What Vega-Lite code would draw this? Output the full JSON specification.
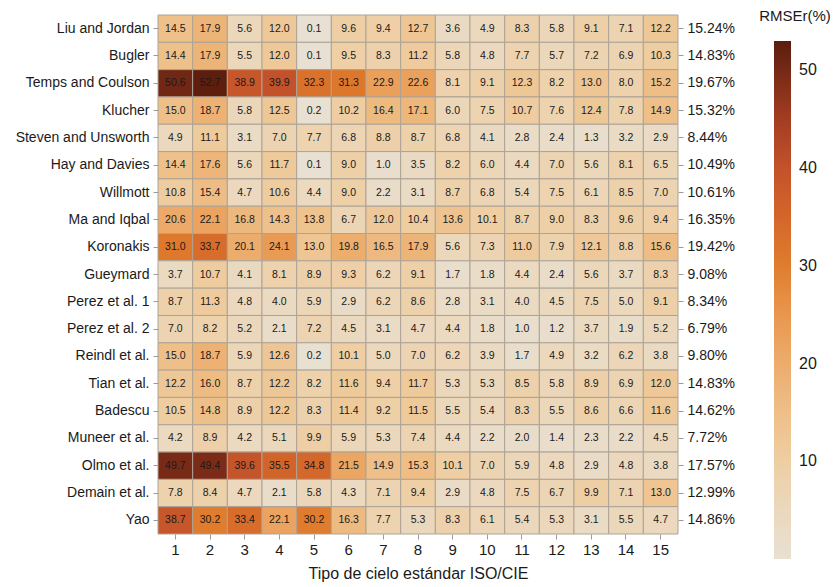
{
  "$schema": "https://vega.github.io/schema/vega-lite/v6.json",
  "autosize": {"type": "none"},
  "padding": {"left": 158, "top": 15, "right": 157, "bottom": 53},
  "width": 520,
  "height": 519,
  "background": "white",
  "config": {
    "view": {"stroke": null},
    "font": "Liberation Sans",
    "axis": {
      "labelFont": "Liberation Sans",
      "titleFont": "Liberation Sans",
      "labelColor": "#1a1a1a",
      "titleColor": "#1a1a1a",
      "tickColor": "#9a9a9a",
      "tickSize": 5,
      "domain": false,
      "grid": false,
      "titleFontWeight": "normal"
    }
  },
  "datasets": {
    "totals": [
      {"model": "Liu and Jordan", "total": 15.24},
      {"model": "Bugler", "total": 14.83},
      {"model": "Temps and Coulson", "total": 19.67},
      {"model": "Klucher", "total": 15.32},
      {"model": "Steven and Unsworth", "total": 8.44},
      {"model": "Hay and Davies", "total": 10.49},
      {"model": "Willmott", "total": 10.61},
      {"model": "Ma and Iqbal", "total": 16.35},
      {"model": "Koronakis", "total": 19.42},
      {"model": "Gueymard", "total": 9.08},
      {"model": "Perez et al. 1", "total": 8.34},
      {"model": "Perez et al. 2", "total": 6.79},
      {"model": "Reindl et al.", "total": 9.80},
      {"model": "Tian et al.", "total": 14.83},
      {"model": "Badescu", "total": 14.62},
      {"model": "Muneer et al.", "total": 7.72},
      {"model": "Olmo et al.", "total": 17.57},
      {"model": "Demain et al.", "total": 12.99},
      {"model": "Yao", "total": 14.86}
    ],
    "cells": [
      {"model":"Liu and Jordan","sky":1,"rmse":14.5},{"model":"Liu and Jordan","sky":2,"rmse":17.9},{"model":"Liu and Jordan","sky":3,"rmse":5.6},{"model":"Liu and Jordan","sky":4,"rmse":12.0},{"model":"Liu and Jordan","sky":5,"rmse":0.1},{"model":"Liu and Jordan","sky":6,"rmse":9.6},{"model":"Liu and Jordan","sky":7,"rmse":9.4},{"model":"Liu and Jordan","sky":8,"rmse":12.7},{"model":"Liu and Jordan","sky":9,"rmse":3.6},{"model":"Liu and Jordan","sky":10,"rmse":4.9},{"model":"Liu and Jordan","sky":11,"rmse":8.3},{"model":"Liu and Jordan","sky":12,"rmse":5.8},{"model":"Liu and Jordan","sky":13,"rmse":9.1},{"model":"Liu and Jordan","sky":14,"rmse":7.1},{"model":"Liu and Jordan","sky":15,"rmse":12.2},
      {"model":"Bugler","sky":1,"rmse":14.4},{"model":"Bugler","sky":2,"rmse":17.9},{"model":"Bugler","sky":3,"rmse":5.5},{"model":"Bugler","sky":4,"rmse":12.0},{"model":"Bugler","sky":5,"rmse":0.1},{"model":"Bugler","sky":6,"rmse":9.5},{"model":"Bugler","sky":7,"rmse":8.3},{"model":"Bugler","sky":8,"rmse":11.2},{"model":"Bugler","sky":9,"rmse":5.8},{"model":"Bugler","sky":10,"rmse":4.8},{"model":"Bugler","sky":11,"rmse":7.7},{"model":"Bugler","sky":12,"rmse":5.7},{"model":"Bugler","sky":13,"rmse":7.2},{"model":"Bugler","sky":14,"rmse":6.9},{"model":"Bugler","sky":15,"rmse":10.3},
      {"model":"Temps and Coulson","sky":1,"rmse":50.6},{"model":"Temps and Coulson","sky":2,"rmse":52.7},{"model":"Temps and Coulson","sky":3,"rmse":38.9},{"model":"Temps and Coulson","sky":4,"rmse":39.9},{"model":"Temps and Coulson","sky":5,"rmse":32.3},{"model":"Temps and Coulson","sky":6,"rmse":31.3},{"model":"Temps and Coulson","sky":7,"rmse":22.9},{"model":"Temps and Coulson","sky":8,"rmse":22.6},{"model":"Temps and Coulson","sky":9,"rmse":8.1},{"model":"Temps and Coulson","sky":10,"rmse":9.1},{"model":"Temps and Coulson","sky":11,"rmse":12.3},{"model":"Temps and Coulson","sky":12,"rmse":8.2},{"model":"Temps and Coulson","sky":13,"rmse":13.0},{"model":"Temps and Coulson","sky":14,"rmse":8.0},{"model":"Temps and Coulson","sky":15,"rmse":15.2},
      {"model":"Klucher","sky":1,"rmse":15.0},{"model":"Klucher","sky":2,"rmse":18.7},{"model":"Klucher","sky":3,"rmse":5.8},{"model":"Klucher","sky":4,"rmse":12.5},{"model":"Klucher","sky":5,"rmse":0.2},{"model":"Klucher","sky":6,"rmse":10.2},{"model":"Klucher","sky":7,"rmse":16.4},{"model":"Klucher","sky":8,"rmse":17.1},{"model":"Klucher","sky":9,"rmse":6.0},{"model":"Klucher","sky":10,"rmse":7.5},{"model":"Klucher","sky":11,"rmse":10.7},{"model":"Klucher","sky":12,"rmse":7.6},{"model":"Klucher","sky":13,"rmse":12.4},{"model":"Klucher","sky":14,"rmse":7.8},{"model":"Klucher","sky":15,"rmse":14.9},
      {"model":"Steven and Unsworth","sky":1,"rmse":4.9},{"model":"Steven and Unsworth","sky":2,"rmse":11.1},{"model":"Steven and Unsworth","sky":3,"rmse":3.1},{"model":"Steven and Unsworth","sky":4,"rmse":7.0},{"model":"Steven and Unsworth","sky":5,"rmse":7.7},{"model":"Steven and Unsworth","sky":6,"rmse":6.8},{"model":"Steven and Unsworth","sky":7,"rmse":8.8},{"model":"Steven and Unsworth","sky":8,"rmse":8.7},{"model":"Steven and Unsworth","sky":9,"rmse":6.8},{"model":"Steven and Unsworth","sky":10,"rmse":4.1},{"model":"Steven and Unsworth","sky":11,"rmse":2.8},{"model":"Steven and Unsworth","sky":12,"rmse":2.4},{"model":"Steven and Unsworth","sky":13,"rmse":1.3},{"model":"Steven and Unsworth","sky":14,"rmse":3.2},{"model":"Steven and Unsworth","sky":15,"rmse":2.9},
      {"model":"Hay and Davies","sky":1,"rmse":14.4},{"model":"Hay and Davies","sky":2,"rmse":17.6},{"model":"Hay and Davies","sky":3,"rmse":5.6},{"model":"Hay and Davies","sky":4,"rmse":11.7},{"model":"Hay and Davies","sky":5,"rmse":0.1},{"model":"Hay and Davies","sky":6,"rmse":9.0},{"model":"Hay and Davies","sky":7,"rmse":1.0},{"model":"Hay and Davies","sky":8,"rmse":3.5},{"model":"Hay and Davies","sky":9,"rmse":8.2},{"model":"Hay and Davies","sky":10,"rmse":6.0},{"model":"Hay and Davies","sky":11,"rmse":4.4},{"model":"Hay and Davies","sky":12,"rmse":7.0},{"model":"Hay and Davies","sky":13,"rmse":5.6},{"model":"Hay and Davies","sky":14,"rmse":8.1},{"model":"Hay and Davies","sky":15,"rmse":6.5},
      {"model":"Willmott","sky":1,"rmse":10.8},{"model":"Willmott","sky":2,"rmse":15.4},{"model":"Willmott","sky":3,"rmse":4.7},{"model":"Willmott","sky":4,"rmse":10.6},{"model":"Willmott","sky":5,"rmse":4.4},{"model":"Willmott","sky":6,"rmse":9.0},{"model":"Willmott","sky":7,"rmse":2.2},{"model":"Willmott","sky":8,"rmse":3.1},{"model":"Willmott","sky":9,"rmse":8.7},{"model":"Willmott","sky":10,"rmse":6.8},{"model":"Willmott","sky":11,"rmse":5.4},{"model":"Willmott","sky":12,"rmse":7.5},{"model":"Willmott","sky":13,"rmse":6.1},{"model":"Willmott","sky":14,"rmse":8.5},{"model":"Willmott","sky":15,"rmse":7.0},
      {"model":"Ma and Iqbal","sky":1,"rmse":20.6},{"model":"Ma and Iqbal","sky":2,"rmse":22.1},{"model":"Ma and Iqbal","sky":3,"rmse":16.8},{"model":"Ma and Iqbal","sky":4,"rmse":14.3},{"model":"Ma and Iqbal","sky":5,"rmse":13.8},{"model":"Ma and Iqbal","sky":6,"rmse":6.7},{"model":"Ma and Iqbal","sky":7,"rmse":12.0},{"model":"Ma and Iqbal","sky":8,"rmse":10.4},{"model":"Ma and Iqbal","sky":9,"rmse":13.6},{"model":"Ma and Iqbal","sky":10,"rmse":10.1},{"model":"Ma and Iqbal","sky":11,"rmse":8.7},{"model":"Ma and Iqbal","sky":12,"rmse":9.0},{"model":"Ma and Iqbal","sky":13,"rmse":8.3},{"model":"Ma and Iqbal","sky":14,"rmse":9.6},{"model":"Ma and Iqbal","sky":15,"rmse":9.4},
      {"model":"Koronakis","sky":1,"rmse":31.0},{"model":"Koronakis","sky":2,"rmse":33.7},{"model":"Koronakis","sky":3,"rmse":20.1},{"model":"Koronakis","sky":4,"rmse":24.1},{"model":"Koronakis","sky":5,"rmse":13.0},{"model":"Koronakis","sky":6,"rmse":19.8},{"model":"Koronakis","sky":7,"rmse":16.5},{"model":"Koronakis","sky":8,"rmse":17.9},{"model":"Koronakis","sky":9,"rmse":5.6},{"model":"Koronakis","sky":10,"rmse":7.3},{"model":"Koronakis","sky":11,"rmse":11.0},{"model":"Koronakis","sky":12,"rmse":7.9},{"model":"Koronakis","sky":13,"rmse":12.1},{"model":"Koronakis","sky":14,"rmse":8.8},{"model":"Koronakis","sky":15,"rmse":15.6},
      {"model":"Gueymard","sky":1,"rmse":3.7},{"model":"Gueymard","sky":2,"rmse":10.7},{"model":"Gueymard","sky":3,"rmse":4.1},{"model":"Gueymard","sky":4,"rmse":8.1},{"model":"Gueymard","sky":5,"rmse":8.9},{"model":"Gueymard","sky":6,"rmse":9.3},{"model":"Gueymard","sky":7,"rmse":6.2},{"model":"Gueymard","sky":8,"rmse":9.1},{"model":"Gueymard","sky":9,"rmse":1.7},{"model":"Gueymard","sky":10,"rmse":1.8},{"model":"Gueymard","sky":11,"rmse":4.4},{"model":"Gueymard","sky":12,"rmse":2.4},{"model":"Gueymard","sky":13,"rmse":5.6},{"model":"Gueymard","sky":14,"rmse":3.7},{"model":"Gueymard","sky":15,"rmse":8.3},
      {"model":"Perez et al. 1","sky":1,"rmse":8.7},{"model":"Perez et al. 1","sky":2,"rmse":11.3},{"model":"Perez et al. 1","sky":3,"rmse":4.8},{"model":"Perez et al. 1","sky":4,"rmse":4.0},{"model":"Perez et al. 1","sky":5,"rmse":5.9},{"model":"Perez et al. 1","sky":6,"rmse":2.9},{"model":"Perez et al. 1","sky":7,"rmse":6.2},{"model":"Perez et al. 1","sky":8,"rmse":8.6},{"model":"Perez et al. 1","sky":9,"rmse":2.8},{"model":"Perez et al. 1","sky":10,"rmse":3.1},{"model":"Perez et al. 1","sky":11,"rmse":4.0},{"model":"Perez et al. 1","sky":12,"rmse":4.5},{"model":"Perez et al. 1","sky":13,"rmse":7.5},{"model":"Perez et al. 1","sky":14,"rmse":5.0},{"model":"Perez et al. 1","sky":15,"rmse":9.1},
      {"model":"Perez et al. 2","sky":1,"rmse":7.0},{"model":"Perez et al. 2","sky":2,"rmse":8.2},{"model":"Perez et al. 2","sky":3,"rmse":5.2},{"model":"Perez et al. 2","sky":4,"rmse":2.1},{"model":"Perez et al. 2","sky":5,"rmse":7.2},{"model":"Perez et al. 2","sky":6,"rmse":4.5},{"model":"Perez et al. 2","sky":7,"rmse":3.1},{"model":"Perez et al. 2","sky":8,"rmse":4.7},{"model":"Perez et al. 2","sky":9,"rmse":4.4},{"model":"Perez et al. 2","sky":10,"rmse":1.8},{"model":"Perez et al. 2","sky":11,"rmse":1.0},{"model":"Perez et al. 2","sky":12,"rmse":1.2},{"model":"Perez et al. 2","sky":13,"rmse":3.7},{"model":"Perez et al. 2","sky":14,"rmse":1.9},{"model":"Perez et al. 2","sky":15,"rmse":5.2},
      {"model":"Reindl et al.","sky":1,"rmse":15.0},{"model":"Reindl et al.","sky":2,"rmse":18.7},{"model":"Reindl et al.","sky":3,"rmse":5.9},{"model":"Reindl et al.","sky":4,"rmse":12.6},{"model":"Reindl et al.","sky":5,"rmse":0.2},{"model":"Reindl et al.","sky":6,"rmse":10.1},{"model":"Reindl et al.","sky":7,"rmse":5.0},{"model":"Reindl et al.","sky":8,"rmse":7.0},{"model":"Reindl et al.","sky":9,"rmse":6.2},{"model":"Reindl et al.","sky":10,"rmse":3.9},{"model":"Reindl et al.","sky":11,"rmse":1.7},{"model":"Reindl et al.","sky":12,"rmse":4.9},{"model":"Reindl et al.","sky":13,"rmse":3.2},{"model":"Reindl et al.","sky":14,"rmse":6.2},{"model":"Reindl et al.","sky":15,"rmse":3.8},
      {"model":"Tian et al.","sky":1,"rmse":12.2},{"model":"Tian et al.","sky":2,"rmse":16.0},{"model":"Tian et al.","sky":3,"rmse":8.7},{"model":"Tian et al.","sky":4,"rmse":12.2},{"model":"Tian et al.","sky":5,"rmse":8.2},{"model":"Tian et al.","sky":6,"rmse":11.6},{"model":"Tian et al.","sky":7,"rmse":9.4},{"model":"Tian et al.","sky":8,"rmse":11.7},{"model":"Tian et al.","sky":9,"rmse":5.3},{"model":"Tian et al.","sky":10,"rmse":5.3},{"model":"Tian et al.","sky":11,"rmse":8.5},{"model":"Tian et al.","sky":12,"rmse":5.8},{"model":"Tian et al.","sky":13,"rmse":8.9},{"model":"Tian et al.","sky":14,"rmse":6.9},{"model":"Tian et al.","sky":15,"rmse":12.0},
      {"model":"Badescu","sky":1,"rmse":10.5},{"model":"Badescu","sky":2,"rmse":14.8},{"model":"Badescu","sky":3,"rmse":8.9},{"model":"Badescu","sky":4,"rmse":12.2},{"model":"Badescu","sky":5,"rmse":8.3},{"model":"Badescu","sky":6,"rmse":11.4},{"model":"Badescu","sky":7,"rmse":9.2},{"model":"Badescu","sky":8,"rmse":11.5},{"model":"Badescu","sky":9,"rmse":5.5},{"model":"Badescu","sky":10,"rmse":5.4},{"model":"Badescu","sky":11,"rmse":8.3},{"model":"Badescu","sky":12,"rmse":5.5},{"model":"Badescu","sky":13,"rmse":8.6},{"model":"Badescu","sky":14,"rmse":6.6},{"model":"Badescu","sky":15,"rmse":11.6},
      {"model":"Muneer et al.","sky":1,"rmse":4.2},{"model":"Muneer et al.","sky":2,"rmse":8.9},{"model":"Muneer et al.","sky":3,"rmse":4.2},{"model":"Muneer et al.","sky":4,"rmse":5.1},{"model":"Muneer et al.","sky":5,"rmse":9.9},{"model":"Muneer et al.","sky":6,"rmse":5.9},{"model":"Muneer et al.","sky":7,"rmse":5.3},{"model":"Muneer et al.","sky":8,"rmse":7.4},{"model":"Muneer et al.","sky":9,"rmse":4.4},{"model":"Muneer et al.","sky":10,"rmse":2.2},{"model":"Muneer et al.","sky":11,"rmse":2.0},{"model":"Muneer et al.","sky":12,"rmse":1.4},{"model":"Muneer et al.","sky":13,"rmse":2.3},{"model":"Muneer et al.","sky":14,"rmse":2.2},{"model":"Muneer et al.","sky":15,"rmse":4.5},
      {"model":"Olmo et al.","sky":1,"rmse":49.7},{"model":"Olmo et al.","sky":2,"rmse":49.4},{"model":"Olmo et al.","sky":3,"rmse":39.6},{"model":"Olmo et al.","sky":4,"rmse":35.5},{"model":"Olmo et al.","sky":5,"rmse":34.8},{"model":"Olmo et al.","sky":6,"rmse":21.5},{"model":"Olmo et al.","sky":7,"rmse":14.9},{"model":"Olmo et al.","sky":8,"rmse":15.3},{"model":"Olmo et al.","sky":9,"rmse":10.1},{"model":"Olmo et al.","sky":10,"rmse":7.0},{"model":"Olmo et al.","sky":11,"rmse":5.9},{"model":"Olmo et al.","sky":12,"rmse":4.8},{"model":"Olmo et al.","sky":13,"rmse":2.9},{"model":"Olmo et al.","sky":14,"rmse":4.8},{"model":"Olmo et al.","sky":15,"rmse":3.8},
      {"model":"Demain et al.","sky":1,"rmse":7.8},{"model":"Demain et al.","sky":2,"rmse":8.4},{"model":"Demain et al.","sky":3,"rmse":4.7},{"model":"Demain et al.","sky":4,"rmse":2.1},{"model":"Demain et al.","sky":5,"rmse":5.8},{"model":"Demain et al.","sky":6,"rmse":4.3},{"model":"Demain et al.","sky":7,"rmse":7.1},{"model":"Demain et al.","sky":8,"rmse":9.4},{"model":"Demain et al.","sky":9,"rmse":2.9},{"model":"Demain et al.","sky":10,"rmse":4.8},{"model":"Demain et al.","sky":11,"rmse":7.5},{"model":"Demain et al.","sky":12,"rmse":6.7},{"model":"Demain et al.","sky":13,"rmse":9.9},{"model":"Demain et al.","sky":14,"rmse":7.1},{"model":"Demain et al.","sky":15,"rmse":13.0},
      {"model":"Yao","sky":1,"rmse":38.7},{"model":"Yao","sky":2,"rmse":30.2},{"model":"Yao","sky":3,"rmse":33.4},{"model":"Yao","sky":4,"rmse":22.1},{"model":"Yao","sky":5,"rmse":30.2},{"model":"Yao","sky":6,"rmse":16.3},{"model":"Yao","sky":7,"rmse":7.7},{"model":"Yao","sky":8,"rmse":5.3},{"model":"Yao","sky":9,"rmse":8.3},{"model":"Yao","sky":10,"rmse":6.1},{"model":"Yao","sky":11,"rmse":5.4},{"model":"Yao","sky":12,"rmse":5.3},{"model":"Yao","sky":13,"rmse":3.1},{"model":"Yao","sky":14,"rmse":5.5},{"model":"Yao","sky":15,"rmse":4.7}
    ]
  },
  "layer": [
    {
      "data": {"name": "cells"},
      "mark": {"type": "rect", "stroke": "#ada395", "strokeWidth": 1},
      "encoding": {
        "x": {
          "field": "sky", "type": "ordinal", "sort": null,
          "scale": {"paddingInner": 0, "paddingOuter": 0},
          "axis": {
            "title": "Tipo de cielo estándar ISO/CIE",
            "titleFontSize": 16,
            "titlePadding": 8,
            "labelAngle": 0,
            "labelFontSize": 15,
            "labelPadding": 3
          }
        },
        "y": {
          "field": "model", "type": "nominal", "sort": null,
          "scale": {"paddingInner": 0, "paddingOuter": 0},
          "axis": {
            "title": null,
            "orient": "left",
            "labelFontSize": 14,
            "labelPadding": 4
          }
        },
        "color": {
          "field": "rmse", "type": "quantitative",
          "scale": {
            "domain": [0, 5, 10, 15, 20, 25, 30, 35, 40, 45, 50, 53],
            "range": ["#e8e0d2", "#ebd8bd", "#eecea3", "#eebf88", "#ecac6c", "#e9974e", "#df7d2d", "#d4662a", "#c3522a", "#a33d22", "#762916", "#5a1d0d"],
            "interpolate": "rgb"
          },
          "legend": {
            "title": "RMSEr(%)",
            "orient": "none",
            "legendX": 601,
            "legendY": -6,
            "direction": "vertical",
            "gradientLength": 518,
            "gradientThickness": 17,
            "gradientStrokeWidth": 0,
            "values": [10, 20, 30, 40, 50],
            "labelFontSize": 16,
            "labelFont": "Liberation Sans",
            "labelColor": "#1a1a1a",
            "labelOffset": 8,
            "tickCount": 5,
            "titleFontSize": 15,
            "titleFont": "Liberation Sans",
            "titleFontWeight": "normal",
            "titleColor": "#1a1a1a",
            "titleAnchor": "middle",
            "titlePadding": 17,
            "padding": 0
          }
        }
      }
    },
    {
      "data": {"name": "cells"},
      "mark": {"type": "text", "fontSize": 10.5, "color": "#1a1a1a", "font": "Liberation Sans"},
      "encoding": {
        "x": {"field": "sky", "type": "ordinal", "sort": null},
        "y": {"field": "model", "type": "nominal", "sort": null, "axis": null},
        "text": {"field": "rmse", "type": "quantitative", "format": ".1f"}
      }
    },
    {
      "data": {"name": "totals"},
      "mark": {"type": "text", "opacity": 0},
      "encoding": {
        "y": {
          "field": "model", "type": "nominal", "sort": null,
          "axis": {
            "title": null,
            "orient": "right",
            "labelFontSize": 14,
            "labelPadding": 4,
            "labelExpr": "indexof(pluck(data('totals'), 'model'), datum.value) >= 0 ? format(data('totals')[indexof(pluck(data('totals'), 'model'), datum.value)].total, '.2f') + '%' : ''"
          }
        },
        "text": {"field": "total", "type": "quantitative"}
      }
    }
  ],
  "resolve": {"axis": {"y": "independent"}}
}
